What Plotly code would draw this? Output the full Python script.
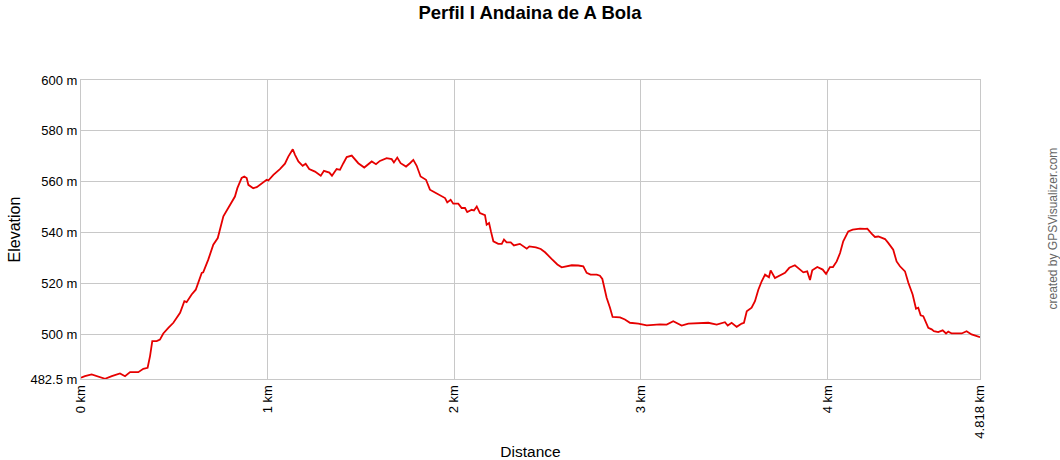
import plotly.graph_objects as go

distance_km = [0, 0.021, 0.057, 0.084, 0.102, 0.129, 0.165, 0.209, 0.236, 0.263, 0.307, 0.334, 0.357, 0.370,
               0.382, 0.406, 0.423, 0.441, 0.468, 0.495, 0.531, 0.554, 0.566, 0.593, 0.615, 0.647, 0.655, 0.682,
               0.709, 0.733, 0.763, 0.786, 0.808, 0.825, 0.838, 0.861, 0.875, 0.888, 0.897, 0.923, 0.942, 0.968,
               0.995, 1.004, 1.031, 1.066, 1.093, 1.111, 1.135, 1.147, 1.165, 1.188, 1.204, 1.223, 1.254, 1.285,
               1.302, 1.331, 1.345, 1.370, 1.388, 1.406, 1.424, 1.451, 1.486, 1.518, 1.558, 1.581, 1.602, 1.638,
               1.665, 1.677, 1.695, 1.713, 1.742, 1.763, 1.781, 1.799, 1.820, 1.849, 1.870, 1.897, 1.933, 1.951,
               1.963, 1.981, 1.995, 2.022, 2.040, 2.058, 2.070, 2.094, 2.106, 2.121, 2.138, 2.165, 2.174, 2.187,
               2.197, 2.210, 2.236, 2.255, 2.267, 2.281, 2.303, 2.320, 2.352, 2.370, 2.389, 2.403, 2.438, 2.464,
               2.487, 2.522, 2.553, 2.576, 2.603, 2.630, 2.665, 2.692, 2.710, 2.731, 2.764, 2.781, 2.794, 2.804,
               2.817, 2.835, 2.849, 2.889, 2.915, 2.942, 2.987, 3.032, 3.067, 3.103, 3.139, 3.174, 3.219, 3.255,
               3.362, 3.407, 3.451, 3.466, 3.487, 3.514, 3.541, 3.553, 3.568, 3.594, 3.612, 3.630, 3.648, 3.666,
               3.687, 3.696, 3.719, 3.746, 3.773, 3.796, 3.826, 3.849, 3.871, 3.892, 3.907, 3.919, 3.946, 3.975,
               3.993, 4.014, 4.030, 4.050, 4.068, 4.085, 4.112, 4.136, 4.175, 4.202, 4.214, 4.237, 4.255, 4.273,
               4.291, 4.309, 4.326, 4.353, 4.371, 4.389, 4.416, 4.434, 4.457, 4.475, 4.487, 4.500, 4.514, 4.541,
               4.559, 4.571, 4.594, 4.618, 4.636, 4.648, 4.666, 4.701, 4.720, 4.746, 4.773, 4.818]

elevation_m = [483.0, 483.6, 484.3, 483.6, 483.0, 482.6, 483.6, 484.7, 483.6, 485.2, 485.2, 486.5, 486.9, 491.5,
               497.4, 497.4, 498.0, 500.4, 502.6, 504.6, 508.5, 513.1, 512.7, 515.7, 517.6, 524.2, 524.4, 529.4,
               535.3, 537.9, 546.4, 549.3, 551.6, 554.2, 557.5, 561.5, 562.1, 561.5, 558.8, 557.5, 557.9, 559.2,
               560.8, 560.5, 562.7, 565.0, 567.1, 569.9, 572.8, 570.6, 568.0, 566.3, 567.1, 565.0, 564.0, 562.4,
               564.3, 563.6, 562.4, 565.0, 564.7, 567.3, 569.7, 570.3, 567.3, 565.6, 568.0, 566.9, 568.2, 569.3,
               568.9, 567.6, 569.5, 567.3, 566.0, 567.3, 568.6, 566.3, 562.1, 560.8, 556.9, 555.8, 554.5, 553.6,
               551.9, 552.9, 551.4, 551.4, 549.7, 549.7, 548.1, 549.0, 548.7, 550.3, 547.7, 546.9, 543.1, 543.8,
               540.5, 536.6, 535.6, 535.6, 537.3, 536.2, 536.2, 535.0, 535.6, 534.6, 533.7, 534.6, 534.2, 533.6,
               532.3, 529.7, 527.5, 526.4, 526.8, 527.2, 527.1, 526.8, 524.2, 523.5, 523.5, 523.1, 521.8, 518.3,
               514.4, 510.5, 506.9, 506.7, 505.9, 504.6, 504.3, 503.6, 503.9, 504.0, 503.9, 505.2, 503.5, 504.3,
               504.6, 503.9, 504.8, 503.5, 504.6, 503.0, 504.3, 504.6, 509.1, 510.5, 513.1, 517.6, 520.9, 523.5,
               522.5, 525.2, 522.2, 523.1, 524.2, 526.2, 527.2, 525.8, 524.4, 524.8, 521.4, 525.2, 526.5, 525.5,
               523.8, 526.5, 526.5, 528.7, 532.0, 536.6, 540.5, 541.2, 541.6, 541.5, 541.6, 539.6, 538.3, 538.5,
               537.9, 537.5, 536.0, 533.3, 528.7, 526.8, 524.8, 520.3, 515.7, 510.1, 510.5, 507.5, 507.2, 502.6,
               502.0, 501.3, 500.9, 501.6, 500.4, 501.1, 500.4, 500.3, 500.4, 501.3, 500.0, 498.9]

x_tick_vals = [0, 1, 2, 3, 4, 4.818]
x_tick_text = ["0 km", "1 km", "2 km", "3 km", "4 km", "4.818 km"]
y_tick_vals = [482.5, 500, 520, 540, 560, 580, 600]
y_tick_text = ["482.5 m", "500 m", "520 m", "540 m", "560 m", "580 m", "600 m"]

FONT = "Arial, Liberation Sans, sans-serif"
GRID = "#c8c8c8"

fig = go.Figure()
fig.add_trace(go.Scatter(
    x=distance_km, y=elevation_m, mode="lines",
    line=dict(color="#e60000", width=1.8), hoverinfo="x+y", showlegend=False,
))

fig.update_layout(
    width=1060, height=460,
    margin=dict(l=81, r=80, t=80, b=81, autoexpand=False),
    paper_bgcolor="white", plot_bgcolor="white",
    font=dict(family=FONT, color="#000000", size=13),
    title=dict(text="<b>Perfil I Andaina de A Bola</b>", x=0.5, xanchor="center",
               y=1 - 13 / 460, yanchor="middle", font=dict(size=18.5, family=FONT, color="#000000")),
    xaxis=dict(
        range=[0, 4.818], tickvals=x_tick_vals, ticktext=x_tick_text, tickangle=-90,
        showgrid=True, gridcolor=GRID, gridwidth=1, zeroline=False, automargin=False,
        showline=True, linecolor=GRID, linewidth=1, mirror=True,
        ticks="", tickfont=dict(size=13, family=FONT, color="#000000"),
        title=dict(text="Distance", font=dict(size=15.5, family=FONT, color="#000000"), standoff=14),
    ),
    yaxis=dict(
        range=[482.5, 600], tickvals=y_tick_vals, ticktext=y_tick_text,
        showgrid=True, gridcolor=GRID, gridwidth=1, zeroline=False, automargin=False,
        showline=True, linecolor=GRID, linewidth=1, mirror=True,
        ticks="", ticklen=0, tickfont=dict(size=13, family=FONT, color="#000000"),
        title=dict(text="Elevation", font=dict(size=16, family=FONT, color="#000000"), standoff=5),
    ),
    annotations=[dict(
        text="created by GPSVisualizer.com", textangle=-90,
        xref="paper", yref="paper", x=1.0, y=0.5, xshift=72, yshift=1,
        xanchor="center", yanchor="middle", showarrow=False,
        font=dict(size=12, family=FONT, color="#666666"),
    )],
)

fig.write_html("out.html", config={"displayModeBar": False},
               post_script="document.body.style.margin='0';document.body.style.padding='0';")
